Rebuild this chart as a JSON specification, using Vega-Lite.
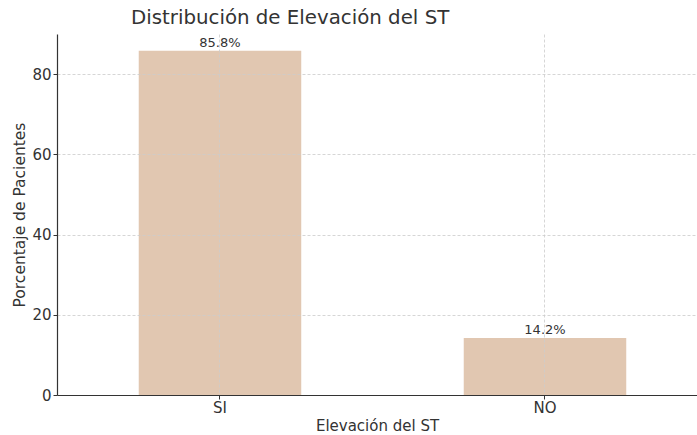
{
  "$schema": "https://vega.github.io/schema/vega-lite/v6.json",
  "autosize": {"type": "none"},
  "width": 640,
  "height": 361,
  "padding": {"left": 57, "top": 34, "right": 0, "bottom": 40},
  "background": "white",
  "title": {
    "text": "Distribución de Elevación del ST",
    "anchor": "start",
    "frame": "group",
    "dx": 74,
    "offset": 6,
    "font": "DejaVu Sans",
    "fontSize": 19.8,
    "fontWeight": "normal",
    "color": "#333333"
  },
  "config": {
    "view": {"stroke": null},
    "font": "DejaVu Sans"
  },
  "data": {
    "values": [
      {"elevacion": "SI", "porcentaje": 85.8, "label": "85.8%"},
      {"elevacion": "NO", "porcentaje": 14.2, "label": "14.2%"}
    ]
  },
  "encoding": {
    "x": {
      "field": "elevacion",
      "type": "nominal",
      "sort": ["SI", "NO"],
      "scale": {"paddingInner": 0.5, "paddingOuter": 0.2346, "align": 0.536},
      "axis": {
        "title": "Elevación del ST",
        "titleFont": "DejaVu Sans",
        "titleFontSize": 15,
        "titleFontWeight": "normal",
        "titleColor": "#333333",
        "titlePadding": 3,
        "labelAngle": 0,
        "labelFontSize": 15,
        "labelColor": "#333333",
        "labelPadding": 1,
        "domainColor": "#333333",
        "domainWidth": 1.2,
        "tickColor": "#333333",
        "tickSize": 4,
        "grid": true,
        "gridColor": "#cccccc",
        "gridDash": [3, 2],
        "gridWidth": 0.8,
        "zindex": 1
      }
    },
    "y": {
      "field": "porcentaje",
      "type": "quantitative",
      "scale": {"domain": [0, 90], "nice": false},
      "axis": {
        "title": "Porcentaje de Pacientes",
        "titleFont": "DejaVu Sans",
        "titleFontSize": 15.5,
        "titleFontWeight": "normal",
        "titleColor": "#333333",
        "titlePadding": 4,
        "values": [0, 20, 40, 60, 80],
        "labelFontSize": 15,
        "labelColor": "#333333",
        "labelPadding": 2,
        "domainColor": "#333333",
        "domainWidth": 1.2,
        "tickColor": "#333333",
        "tickSize": 4,
        "grid": true,
        "gridColor": "#cccccc",
        "gridDash": [3, 2],
        "gridWidth": 0.8,
        "zindex": 1
      }
    }
  },
  "layer": [
    {
      "mark": {"type": "bar", "color": "#e1c7b1"}
    },
    {
      "mark": {"type": "text", "baseline": "bottom", "dy": -1, "fontSize": 13, "color": "#333333", "font": "DejaVu Sans"},
      "encoding": {"text": {"field": "label"}}
    }
  ]
}
